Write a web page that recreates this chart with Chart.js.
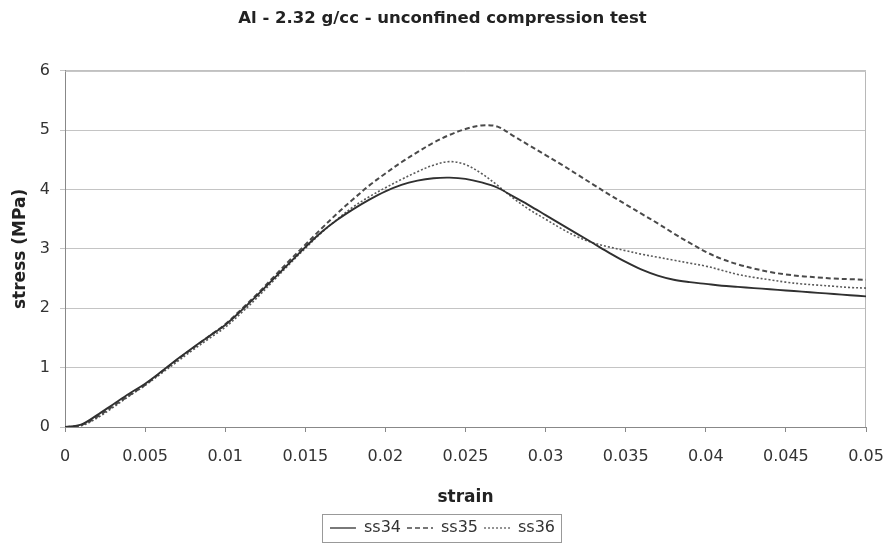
<!DOCTYPE html>
<html>
<head>
<meta charset="utf-8">
<script src="https://cdn.jsdelivr.net/npm/chart.js@4.4.1/dist/chart.umd.min.js"></script>
<style>
  html, body { margin:0; padding:0; background:#fff; }
  #wrap { width:885px; height:546px; }
</style>
</head>
<body>
<div id="wrap"><canvas id="c" width="885" height="546"></canvas></div>
<script>
// strain values (x) shared by all three tests
const strain = [0,0.001,0.002,0.003,0.004,0.005,0.006,0.007,0.008,0.009,
  0.010,0.011,0.012,0.013,0.014,0.015,0.016,0.017,0.018,0.019,
  0.020,0.021,0.022,0.023,0.024,0.025,0.026,0.027,0.028,0.029,
  0.030,0.031,0.032,0.033,0.034,0.035,0.036,0.037,0.038,0.039,
  0.040,0.041,0.042,0.043,0.044,0.045,0.046,0.047,0.048,0.049,0.050];

// stress (MPa)
const ss34 = [0,0.04,0.2,0.38,0.56,0.73,0.93,1.14,1.34,1.53,
  1.72,1.96,2.22,2.49,2.76,3.03,3.28,3.49,3.67,3.83,
  3.97,4.08,4.15,4.19,4.2,4.18,4.12,4.03,3.88,3.73,
  3.57,3.41,3.25,3.09,2.93,2.78,2.65,2.55,2.48,2.44,
  2.41,2.38,2.36,2.34,2.32,2.3,2.28,2.26,2.24,2.22,2.2];
const ss35 = [0,0.03,0.17,0.35,0.53,0.71,0.92,1.13,1.33,1.53,
  1.73,1.98,2.24,2.52,2.8,3.07,3.34,3.6,3.84,4.07,
  4.27,4.46,4.63,4.79,4.92,5.02,5.08,5.06,4.9,4.74,
  4.58,4.42,4.25,4.08,3.91,3.75,3.59,3.43,3.26,3.1,
  2.95,2.83,2.74,2.67,2.61,2.57,2.54,2.52,2.5,2.49,2.48];
const ss36 = [0,0.02,0.15,0.33,0.52,0.7,0.9,1.1,1.3,1.49,
  1.68,1.92,2.18,2.46,2.74,3.01,3.27,3.5,3.71,3.88,
  4.03,4.17,4.3,4.41,4.47,4.42,4.27,4.07,3.85,3.66,
  3.5,3.34,3.2,3.1,3.03,2.97,2.91,2.86,2.81,2.76,
  2.71,2.64,2.57,2.52,2.48,2.44,2.41,2.39,2.37,2.35,2.34];

const xTicks = [0,0.005,0.01,0.015,0.02,0.025,0.03,0.035,0.04,0.045,0.05];
const yTicks = [0,1,2,3,4,5,6];

const FONT = 'DejaVu Sans';
const pts = ys => strain.map((x,i)=>({x, y:ys[i]}));

function line(label, ys, color, width, dash){
  return {
    label, data: pts(ys),
    borderColor: color, backgroundColor: color,
    borderWidth: width, borderDash: dash,
    pointRadius: 0, pointStyle: 'line',
    tension: 0.35, fill: false
  };
}

// plot frame + legend border
const frame = {
  id: 'frame',
  beforeDatasetsDraw(chart){
    const {ctx, chartArea:a} = chart;
    ctx.save();
    ctx.strokeStyle = '#b8b8b8';
    ctx.lineWidth = 1;
    ctx.beginPath();
    ctx.moveTo(a.left, a.top + 0.5);
    ctx.lineTo(a.right - 0.5, a.top + 0.5);
    ctx.lineTo(a.right - 0.5, a.bottom);
    ctx.stroke();
    ctx.restore();
  },
  afterDraw(chart){
    const lg = chart.legend;
    if(!lg || !lg.legendHitBoxes.length) return;
    const hb = lg.legendHitBoxes;
    const l = Math.min(...hb.map(h=>h.left)) - 8;
    const r = Math.max(...hb.map(h=>h.left + h.width)) + 6;
    const t = Math.min(...hb.map(h=>h.top)) - 6;
    const b = Math.max(...hb.map(h=>h.top + h.height)) + 6;
    const ctx = chart.ctx;
    ctx.save();
    ctx.strokeStyle = '#999';
    ctx.lineWidth = 1;
    ctx.strokeRect(Math.round(l)+0.5, Math.round(t)+0.5, Math.round(r-l), Math.round(b-t));
    ctx.restore();
  }
};

const baseLabels = Chart.defaults.plugins.legend.labels.generateLabels;

new Chart(document.getElementById('c'), {
  type: 'line',
  data: {
    datasets: [
      line('ss34', ss34, '#303030', 1.9, []),
      line('ss35', ss35, '#4a4a4a', 2, [5,3]),
      line('ss36', ss36, '#5a5a5a', 1.6, [2,2])
    ]
  },
  options: {
    responsive: false,
    animation: false,
    layout: { padding: 0 },
    plugins: {
      title: {
        display: true,
        text: 'Al - 2.32 g/cc - unconfined compression test',
        color: '#222',
        font: { family: FONT, size: 16.5, weight: 'bold' },
        padding: { top: 9, bottom: 42 }
      },
      legend: {
        position: 'bottom',
        labels: {
          usePointStyle: true,
          pointStyle: 'line',
          pointStyleWidth: 26,
          boxHeight: 14,
          padding: 6,
          color: '#333',
          font: { family: FONT, size: 16 },
          generateLabels(chart){
            return baseLabels(chart).map((it, i) => {
              const ds = chart.data.datasets[i];
              it.lineDash = ds.borderDash;
              it.lineWidth = 1.3;
              it.strokeStyle = ds.borderColor;
              return it;
            });
          }
        }
      },
      tooltip: { enabled: false }
    },
    scales: {
      x: {
        type: 'linear',
        min: 0, max: 0.05,
        afterBuildTicks: s => { s.ticks = xTicks.map(v=>({value:v})); },
        afterFit: s => { s.height = 87; s.paddingLeft = 0; s.paddingRight = 19; },
        border: { color: '#888', width: 1 },
        grid: { drawOnChartArea: false, drawTicks: true, tickLength: 5, color: '#888' },
        ticks: {
          color: '#333', padding: 15,
          font: { family: FONT, size: 16 },
          maxRotation: 0,
          callback: v => String(parseFloat(v.toFixed(3)))
        },
        title: {
          display: true, text: 'strain', color: '#222',
          font: { family: FONT, size: 17, weight: 'bold' },
          padding: { top: 0, bottom: 6 }
        }
      },
      y: {
        min: 0, max: 6,
        afterBuildTicks: s => { s.ticks = yTicks.map(v=>({value:v})); },
        afterFit: s => { s.width = 65; },
        border: { color: '#888', width: 1 },
        grid: { color: '#c4c4c4', tickLength: 5, drawTicks: true },
        ticks: {
          color: '#333', padding: 10,
          font: { family: FONT, size: 16 }
        },
        title: {
          display: true, text: 'stress (MPa)', color: '#222',
          font: { family: FONT, size: 17, weight: 'bold' },
          padding: { top: 10, bottom: 0 }
        }
      }
    }
  },
  plugins: [frame]
});
</script>
</body>
</html>
